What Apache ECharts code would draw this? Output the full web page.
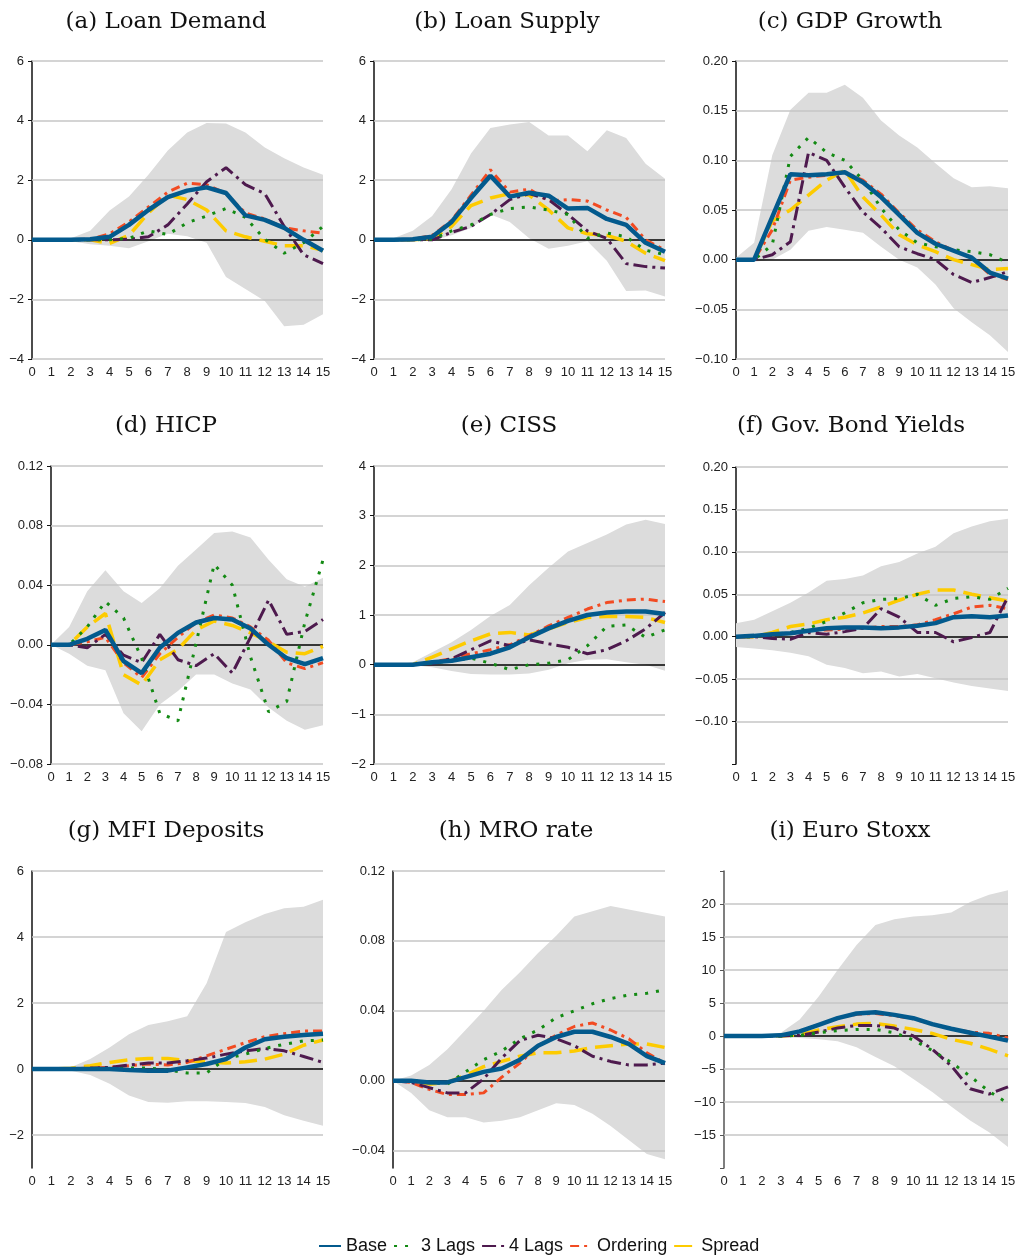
<!DOCTYPE html>
<html><head><meta charset="utf-8">
<script src="https://cdn.jsdelivr.net/npm/echarts@6/dist/echarts.min.js"></script>
<style>html,body{margin:0;padding:0;background:#fff}#c{width:1019px;height:1259px}</style>
</head><body><div id="c"></div>
<script>
const periods = ['0','1','2','3','4','5','6','7','8','9','10','11','12','13','14','15'];
const seriesNames = ['Base','3 Lags','4 Lags','Ordering','Spread'];

// (a) Loan Demand
const aBase  = [0,0,0,0.02,0.1,0.5,1.0,1.43,1.65,1.76,1.57,0.82,0.67,0.4,0.0,-0.37];
const aLag3  = [0,0,0,0,0,0.05,0.3,0.18,0.57,0.8,1.05,0.75,0.02,-0.45,-0.1,0.45];
const aLag4  = [0,0,0,0,0,0.02,0.1,0.5,1.2,1.95,2.42,1.85,1.55,0.45,-0.5,-0.8];
const aOrd   = [0,0,0,0.02,0.2,0.6,1.1,1.6,1.9,1.85,1.55,0.9,0.7,0.4,0.3,0.22];
const aSpr   = [0,0,0,0,-0.12,0.15,0.9,1.5,1.35,1.0,0.3,0.1,-0.05,-0.2,-0.2,-0.35];
const aUp    = [0,0,0.05,0.3,0.98,1.45,2.18,3.0,3.6,3.92,3.9,3.6,3.1,2.74,2.43,2.18];
const aLo    = [0,0,-0.05,-0.15,-0.2,-0.28,-0.05,0.2,0.12,-0.1,-1.25,-1.65,-2.05,-2.9,-2.85,-2.5];
const aTicks = [-4,-2,0,2,4,6];

// (b) Loan Supply
const bBase  = [0,0,0.02,0.1,0.6,1.4,2.15,1.45,1.58,1.48,1.05,1.07,0.7,0.5,-0.1,-0.4];
const bLag3  = [0,0,0,0.02,0.3,0.5,0.85,1.05,1.1,1.0,0.85,0.05,0.23,0.1,-0.35,-0.5];
const bLag4  = [0,0,0,0,0.25,0.45,0.85,1.35,1.55,1.35,0.85,0.3,0.05,-0.8,-0.9,-0.95];
const bOrd   = [0,0,0.02,0.15,0.65,1.5,2.35,1.6,1.7,1.3,1.35,1.3,1.0,0.75,0.0,-0.35];
const bSpr   = [0,0,0,0.05,0.45,1.15,1.4,1.55,1.5,1.0,0.4,0.2,0.15,-0.05,-0.45,-0.7];
const bUp    = [0,0.05,0.3,0.8,1.7,2.9,3.75,3.87,3.95,3.5,3.5,2.97,3.68,3.42,2.55,2.05];
const bLo    = [0,0,0,-0.03,0.15,0.4,0.85,0.6,0.05,-0.3,-0.2,-0.05,-0.7,-1.72,-1.7,-1.9];
const bTicks = [-4,-2,0,2,4,6];

// (c) GDP Growth
const cBase  = [0,0,0.043,0.086,0.085,0.086,0.088,0.078,0.063,0.045,0.027,0.016,0.009,0.002,-0.013,-0.019];
const cLag3  = [0,0,0.015,0.104,0.123,0.108,0.1,0.08,0.052,0.03,0.017,0.013,0.01,0.008,0.005,-0.003];
const cLag4  = [0,0,0.005,0.018,0.108,0.1,0.073,0.048,0.032,0.013,0.006,0.0,-0.015,-0.023,-0.018,-0.012];
const cOrd   = [0,0,0.03,0.08,0.083,0.085,0.088,0.08,0.066,0.047,0.03,0.018,0.009,0.002,-0.015,-0.02];
const cSpr   = [0,0,0.039,0.05,0.065,0.08,0.09,0.063,0.045,0.025,0.015,0.008,0.0,-0.005,-0.01,-0.009];
const cUp    = [0.002,0.017,0.105,0.151,0.168,0.168,0.176,0.163,0.14,0.125,0.113,0.097,0.082,0.073,0.074,0.072];
const cLo    = [0,-0.002,0.0,0.01,0.029,0.033,0.03,0.027,0.013,0.0,-0.008,-0.025,-0.049,-0.063,-0.076,-0.093];
const cTicks = [-0.1,-0.05,0,0.05,0.1,0.15,0.2];

// (d) HICP
const dBase  = [0,0,0.004,0.01,-0.011,-0.019,-0.002,0.008,0.015,0.018,0.017,0.011,0.0,-0.009,-0.013,-0.009];
const dLag3  = [0,0,0.012,0.029,0.018,-0.009,-0.046,-0.051,0.001,0.054,0.04,-0.008,-0.045,-0.038,0.015,0.057];
const dLag4  = [0,0,-0.002,0.007,-0.007,-0.012,0.007,-0.01,-0.014,-0.006,-0.019,0.005,0.03,0.007,0.009,0.017];
const dOrd   = [0,0,0.002,0.005,-0.012,-0.022,-0.006,0.005,0.015,0.02,0.018,0.012,0.003,-0.012,-0.016,-0.012];
const dSpr   = [0,0,0.012,0.021,-0.02,-0.027,-0.01,-0.003,0.01,0.016,0.013,0.008,0.002,-0.005,-0.006,-0.001];
const dUp    = [0,0.012,0.036,0.05,0.036,0.028,0.038,0.053,0.064,0.075,0.076,0.072,0.057,0.044,0.039,0.045];
const dLo    = [0,-0.006,-0.014,-0.017,-0.046,-0.058,-0.04,-0.031,-0.02,-0.02,-0.026,-0.03,-0.042,-0.051,-0.057,-0.054];
const dTicks = [-0.08,-0.04,0,0.04,0.08,0.12];

// (e) CISS
const eBase  = [0,0,0,0.05,0.08,0.15,0.22,0.35,0.55,0.73,0.88,1.0,1.05,1.07,1.07,1.02];
const eLag3  = [0,0,0,0.03,0.08,0.13,0.03,-0.1,0.0,0.03,0.1,0.38,0.77,0.8,0.55,0.7];
const eLag4  = [0,0,0,0.02,0.12,0.3,0.48,0.38,0.5,0.42,0.35,0.22,0.3,0.48,0.72,1.05];
const eOrd   = [0,0,0,0.05,0.12,0.22,0.3,0.4,0.58,0.78,0.95,1.12,1.25,1.3,1.32,1.27];
const eSpr   = [0,0,0,0.15,0.32,0.48,0.62,0.65,0.6,0.72,0.85,0.95,0.97,0.97,0.95,0.85];
const eUp    = [0,0,0.05,0.25,0.45,0.7,0.98,1.2,1.6,1.95,2.28,2.45,2.62,2.82,2.92,2.83];
const eLo    = [0,0,-0.01,-0.05,-0.13,-0.19,-0.2,-0.2,-0.18,-0.1,0.03,0.1,0.11,0.05,0.0,-0.12];
const eTicks = [-2,-1,0,1,2,3,4];

// (f) Gov. Bond Yields
const fBase  = [0,0.001,0.003,0.004,0.007,0.01,0.011,0.011,0.01,0.011,0.013,0.016,0.023,0.024,0.023,0.025];
const fLag3  = [0,0,0.003,0.005,0.01,0.018,0.028,0.04,0.044,0.045,0.05,0.037,0.045,0.047,0.044,0.057];
const fLag4  = [0,0,-0.002,-0.003,0.005,0.003,0.006,0.01,0.033,0.023,0.005,0.005,-0.006,-0.001,0.005,0.047];
const fOrd   = [0,0,0.002,0.004,0.007,0.008,0.009,0.01,0.012,0.012,0.014,0.02,0.027,0.035,0.037,0.033];
const fSpr   = [0,0,0.005,0.012,0.015,0.02,0.023,0.028,0.035,0.043,0.05,0.055,0.055,0.05,0.046,0.042];
const fUp    = [0.016,0.02,0.03,0.04,0.052,0.066,0.068,0.072,0.083,0.088,0.098,0.106,0.122,0.13,0.136,0.139];
const fLo    = [-0.012,-0.014,-0.016,-0.019,-0.023,-0.033,-0.037,-0.043,-0.041,-0.047,-0.044,-0.049,-0.054,-0.058,-0.061,-0.064];
const fTicks = [-0.1,-0.05,0,0.05,0.1,0.15,0.2];

// (g) MFI Deposits
const gBase  = [0,0,0,0,0,-0.03,-0.05,-0.05,0.05,0.15,0.3,0.65,0.9,0.98,1.03,1.07];
const gLag3  = [0,0,0,0,0,0.03,0.03,-0.03,-0.12,-0.12,0.32,0.45,0.62,0.75,0.85,0.88];
const gLag4  = [0,0,0,0.02,0.05,0.12,0.18,0.18,0.25,0.33,0.45,0.55,0.62,0.55,0.38,0.2];
const gOrd   = [0,0,0,0.03,0.05,0.1,0.15,0.12,0.2,0.4,0.6,0.8,0.98,1.07,1.15,1.15];
const gSpr   = [0,0,0.02,0.1,0.2,0.28,0.32,0.32,0.25,0.22,0.18,0.22,0.3,0.45,0.72,0.88];
const gUp    = [0,0,0.05,0.3,0.65,1.05,1.33,1.45,1.6,2.6,4.15,4.45,4.7,4.87,4.92,5.13];
const gLo    = [0,0,-0.05,-0.18,-0.45,-0.8,-1.0,-1.02,-0.98,-0.98,-1.0,-1.03,-1.15,-1.4,-1.57,-1.72];
const gTicks = [-2,0,2,4,6];

// (h) MRO rate
const hBase  = [0,0,-0.001,-0.001,0.002,0.005,0.007,0.012,0.02,0.025,0.028,0.028,0.025,0.021,0.014,0.01];
const hLag3  = [0,0,-0.001,-0.002,0.005,0.012,0.017,0.024,0.029,0.036,0.04,0.044,0.047,0.049,0.05,0.052];
const hLag4  = [0,-0.001,-0.004,-0.007,-0.007,0.001,0.013,0.023,0.026,0.024,0.02,0.014,0.011,0.009,0.009,0.01];
const hOrd   = [0,-0.001,-0.005,-0.008,-0.008,-0.007,0.002,0.01,0.02,0.026,0.031,0.033,0.029,0.024,0.016,0.01];
const hSpr   = [0,0,-0.002,-0.001,0.003,0.008,0.011,0.014,0.016,0.016,0.017,0.019,0.02,0.021,0.021,0.019];
const hUp    = [0,0.003,0.009,0.018,0.029,0.04,0.052,0.062,0.073,0.083,0.094,0.097,0.1,0.098,0.096,0.094];
const hLo    = [0,-0.007,-0.017,-0.021,-0.021,-0.024,-0.023,-0.021,-0.017,-0.013,-0.014,-0.019,-0.026,-0.034,-0.042,-0.045];
const hTicks = [-0.04,0,0.04,0.08,0.12];

// (i) Euro Stoxx
const iBase  = [0,0,0,0.1,0.7,1.7,2.7,3.4,3.6,3.2,2.7,1.8,1.1,0.5,-0.1,-0.7];
const iLag3  = [0,0,0,0,0.1,0.5,0.8,1.0,1.0,0.5,-0.6,-2.2,-4.0,-6.1,-8.4,-10.2];
const iLag4  = [0,0,0,0,0.1,0.6,1.2,1.6,1.6,1.2,0.0,-2.0,-4.5,-8.0,-8.8,-7.7];
const iOrd   = [0,0,0,0.1,0.7,1.7,2.7,3.3,3.4,3.1,2.6,1.8,1.1,0.6,0.4,-0.3];
const iSpr   = [0,0,0,0,0.2,0.9,1.4,1.8,1.9,1.5,1.0,0.4,-0.5,-1.1,-2.0,-3.0];
const iUp    = [0,0,0.1,0.5,2.5,6.0,10.0,13.8,16.8,17.7,18.1,18.3,18.7,20.3,21.4,22.1];
const iLo    = [0,0,0,-0.1,-0.3,-0.5,-0.8,-1.7,-3.2,-4.6,-6.5,-8.5,-10.7,-12.8,-14.6,-16.8];
const iTicks = [-15,-10,-5,0,5,10,15,20];

// ---- layout / styling ----
const panels = [
  {t:'(a) Loan Demand',     cx:166, ty:11,  g:[32,61,291,298],  min:-4,   max:6,    step:2,    dec:0, tick:true,  ax:'#111', s:[aBase,aLag3,aLag4,aOrd,aSpr], up:aUp, lo:aLo, ticks:aTicks},
  {t:'(b) Loan Supply',     cx:507, ty:11,  g:[374,61,291,298], min:-4,   max:6,    step:2,    dec:0, tick:true,  ax:'#111', s:[bBase,bLag3,bLag4,bOrd,bSpr], up:bUp, lo:bLo, ticks:bTicks},
  {t:'(c) GDP Growth',      cx:850, ty:11,  g:[736,61,272,298], min:-0.1, max:0.2,  step:0.05, dec:2, tick:true,  ax:'#111', s:[cBase,cLag3,cLag4,cOrd,cSpr], up:cUp, lo:cLo, ticks:cTicks},
  {t:'(d) HICP',            cx:166, ty:415, g:[51,466,272,298], min:-0.08,max:0.12, step:0.04, dec:2, tick:true,  ax:'#111', s:[dBase,dLag3,dLag4,dOrd,dSpr], up:dUp, lo:dLo, ticks:dTicks},
  {t:'(e) CISS',            cx:509, ty:415, g:[374,466,291,298],min:-2,   max:4,    step:1,    dec:0, tick:true,  ax:'#111', s:[eBase,eLag3,eLag4,eOrd,eSpr], up:eUp, lo:eLo, ticks:eTicks},
  {t:'(f) Gov. Bond Yields',cx:851, ty:415, g:[736,467,272,297],min:-0.15,max:0.2,  step:0.05, dec:2, tick:true,  ax:'#111', s:[fBase,fLag3,fLag4,fOrd,fSpr], up:fUp, lo:fLo, ticks:fTicks},
  {t:'(g) MFI Deposits',    cx:166, ty:820, g:[32,871,291,297], min:-3,   max:6,    step:1,    dec:0, tick:false, ax:'#111', s:[gBase,gLag3,gLag4,gOrd,gSpr], up:gUp, lo:gLo, ticks:gTicks},
  {t:'(h) MRO rate',        cx:516, ty:820, g:[393,871,272,297],min:-0.05,max:0.12, step:0.01, dec:2, tick:false, ax:'#111', s:[hBase,hLag3,hLag4,hOrd,hSpr], up:hUp, lo:hLo, ticks:hTicks},
  {t:'(i) Euro Stoxx',      cx:850, ty:820, g:[724,871,284,297],min:-20,  max:25,   step:5,    dec:0, tick:true,  ax:'#555', s:[iBase,iLag3,iLag4,iOrd,iSpr], up:iUp, lo:iLo, ticks:iTicks}
];
const styles = [
  {color:'#035a8d', width:4.5, type:'solid'},
  {color:'#138a13', width:3,   type:[3,8]},
  {color:'#4e1a4e', width:3,   type:[14,5,3,5]},
  {color:'#f24b22', width:3,   type:[9,5,3,5]},
  {color:'#fdcb00', width:3.5, type:[18,8]}
];
const drawOrder = [4,3,2,1,0];

function fmt(v,p){
  const ok = p.ticks.some(t => Math.abs(t - v) < p.step * 1e-3);
  if (!ok) return '';
  const s = Math.abs(v).toFixed(p.dec);
  return v < -1e-9 ? '\u2212' + s : s;
}

const option = {animation:false, title:[], grid:[], xAxis:[], yAxis:[], series:[],
  legend:{data:seriesNames, left:318, top:1237, padding:0, itemWidth:22, itemHeight:14, itemGap:6,
    itemStyle:{opacity:0, borderWidth:0},
    textStyle:{fontSize:18, fontFamily:'Liberation Sans', color:'#111'}}};

panels.forEach((p,i) => {
  option.title.push({text:p.t, left:p.cx, top:p.ty, textAlign:'center', padding:0,
    textStyle:{fontFamily:'DejaVu Serif', fontSize:23, fontWeight:'normal', color:'#111'}});
  option.grid.push({left:p.g[0], top:p.g[1], width:p.g[2], height:p.g[3], containLabel:false});
  option.xAxis.push({type:'category', gridIndex:i, data:periods, boundaryGap:false,
    axisLine:{show:false, onZero:false}, axisTick:{show:false},
    axisLabel:{interval:0, fontSize:13, color:'#222', margin:7, fontFamily:'Liberation Sans'},
    splitLine:{show:false}});
  option.yAxis.push({type:'value', gridIndex:i, min:p.min, max:p.max, interval:p.step,
    axisLine:{show:true, onZero:false, lineStyle:{color:p.ax, width:1.5}},
    axisTick:{show:p.tick, length:4, lineStyle:{color:p.ax, width:1}},
    axisLabel:{fontSize:13, color:'#222', margin:8, fontFamily:'Liberation Sans', formatter:v => fmt(v,p)},
    splitLine:{show:false}});
  option.series.push({type:'line', name:'lower'+i, xAxisIndex:i, yAxisIndex:i, data:p.lo,
    stack:'band'+i, stackStrategy:'all', symbol:'none', silent:true, z:1,
    lineStyle:{width:0, opacity:0},
    markLine:{silent:true, symbol:'none', z:2, label:{show:false}, animation:false,
      data:p.ticks.map(t => ({yAxis:t, lineStyle:{color:t===0?'#000':'#c6c6c6', width:1.5, type:'solid'}}))}});
  option.series.push({type:'line', name:'band'+i, xAxisIndex:i, yAxisIndex:i,
    data:p.up.map((u,k) => +(u - p.lo[k]).toFixed(6)),
    stack:'band'+i, stackStrategy:'all', symbol:'none', silent:true, z:1,
    lineStyle:{width:0, opacity:0}, areaStyle:{color:'#dcdcdc', opacity:1}});
  drawOrder.forEach(k => {
    option.series.push({type:'line', name:seriesNames[k], xAxisIndex:i, yAxisIndex:i, data:p.s[k],
      symbol:'none', z:3, lineStyle:{color:styles[k].color, width:styles[k].width, type:styles[k].type, cap:'butt'},
      itemStyle:{color:styles[k].color}});
  });
});

const chart = echarts.init(document.getElementById('c'));
chart.setOption(option);
</script>
</body></html>
